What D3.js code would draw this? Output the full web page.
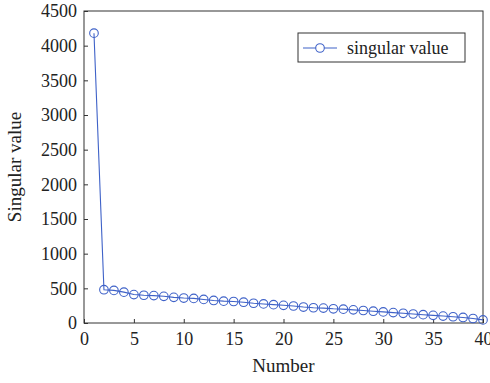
<!DOCTYPE html>
<html>
<head>
<meta charset="utf-8">
<script src="https://cdn.jsdelivr.net/npm/d3@7"></script>
<style>
  body { margin: 0; background: #fff; }
  svg text { font-family: "Liberation Serif", "DejaVu Serif", serif; fill: #222; }
</style>
</head>
<body>
<div id="chart"></div>
<script>
// singular values, index 1..40
const numbers = d3.range(1, 41);
const singularValues = [
  4180, 480, 470, 445, 410, 400, 395, 385, 370, 360,
  355, 340, 325, 315, 310, 300, 285, 275, 265, 255,
  245, 230, 220, 215, 205, 200, 190, 180, 170, 160,
  150, 140, 130, 120, 110, 100, 90, 80, 65, 45
];
const xTicks = [0, 5, 10, 15, 20, 25, 30, 35, 40];
const yTicks = [0, 500, 1000, 1500, 2000, 2500, 3000, 3500, 4000, 4500];
const seriesName = "singular value";

const W = 490, H = 383;
const margin = { top: 11, right: 7, bottom: 60, left: 84 };
const width = W - margin.left - margin.right,
    height = H - margin.top - margin.bottom;
const colour = "#3f62c8";
const serif = '"Liberation Serif", "DejaVu Serif", serif';

const svg = d3.select("#chart").append("svg")
    .attr("width", W)
    .attr("height", H)
    .append("g")
    .attr("transform", "translate(" + margin.left + "," + margin.top + ")");

const x = d3.scaleLinear().domain([0, 40]).range([0, width]);
const y = d3.scaleLinear().domain([0, 4500]).range([height, 0]);

const data = numbers.map((n, i) => ({ n: n, v: singularValues[i] }));

// axes, ticks pointing inward
const xAxis = d3.axisBottom(x).tickValues(xTicks).tickFormat(d3.format("d"))
    .tickSizeInner(-4).tickSizeOuter(0).tickPadding(9);
const yAxis = d3.axisLeft(y).tickValues(yTicks).tickFormat(d3.format("d"))
    .tickSizeInner(-4).tickSizeOuter(0).tickPadding(7);

const gx = svg.append("g")
    .attr("transform", "translate(0," + height + ")")
    .call(xAxis);
const gy = svg.append("g").call(yAxis);

[gx, gy].forEach(g => {
    g.attr("font-family", serif).attr("font-size", 18);
    g.select(".domain").remove();
    g.selectAll("line").attr("stroke", "#333");
    g.selectAll("text").style("font-family", serif).style("font-size", "18px").attr("fill", "#222");
});

// box
svg.append("rect")
    .attr("width", width)
    .attr("height", height)
    .attr("fill", "none")
    .attr("stroke", "#333")
    .attr("stroke-width", 1);

const line = d3.line()
    .x(d => x(d.n))
    .y(d => y(d.v));

svg.append("path")
    .datum(data)
    .attr("d", line)
    .attr("fill", "none")
    .attr("stroke", colour)
    .attr("stroke-width", 1.1);

svg.append("g")
    .selectAll("circle")
    .data(data)
    .enter().append("circle")
    .attr("cx", d => x(d.n))
    .attr("cy", d => y(d.v))
    .attr("r", 4.3)
    .attr("fill", "none")
    .attr("stroke", colour)
    .attr("stroke-width", 1.1);

// axis titles
svg.append("text")
    .attr("x", width / 2)
    .attr("y", height + 49)
    .attr("text-anchor", "middle")
    .style("font-size", "19px")
    .text("Number");

svg.append("text")
    .attr("transform", "rotate(-90) translate(" + [-height / 2, -63] + ")")
    .attr("text-anchor", "middle")
    .style("font-size", "19px")
    .text("Singular value");

// legend
const legend = svg.append("g")
    .attr("transform", "translate(" + (298 - margin.left) + "," + (33 - margin.top) + ")");
legend.append("rect")
    .attr("width", 167)
    .attr("height", 29)
    .attr("fill", "#fff")
    .attr("stroke", "#333")
    .attr("stroke-width", 1);
legend.append("line")
    .attr("x1", 5).attr("x2", 39)
    .attr("y1", 15).attr("y2", 15)
    .attr("stroke", colour)
    .attr("stroke-width", 1.1);
legend.append("circle")
    .attr("cx", 22).attr("cy", 15).attr("r", 4.3)
    .attr("fill", "#fff")
    .attr("stroke", colour)
    .attr("stroke-width", 1.1);
legend.append("text")
    .attr("x", 49)
    .attr("y", 21)
    .style("font-size", "18px")
    .text(seriesName);
</script>
</body>
</html>
